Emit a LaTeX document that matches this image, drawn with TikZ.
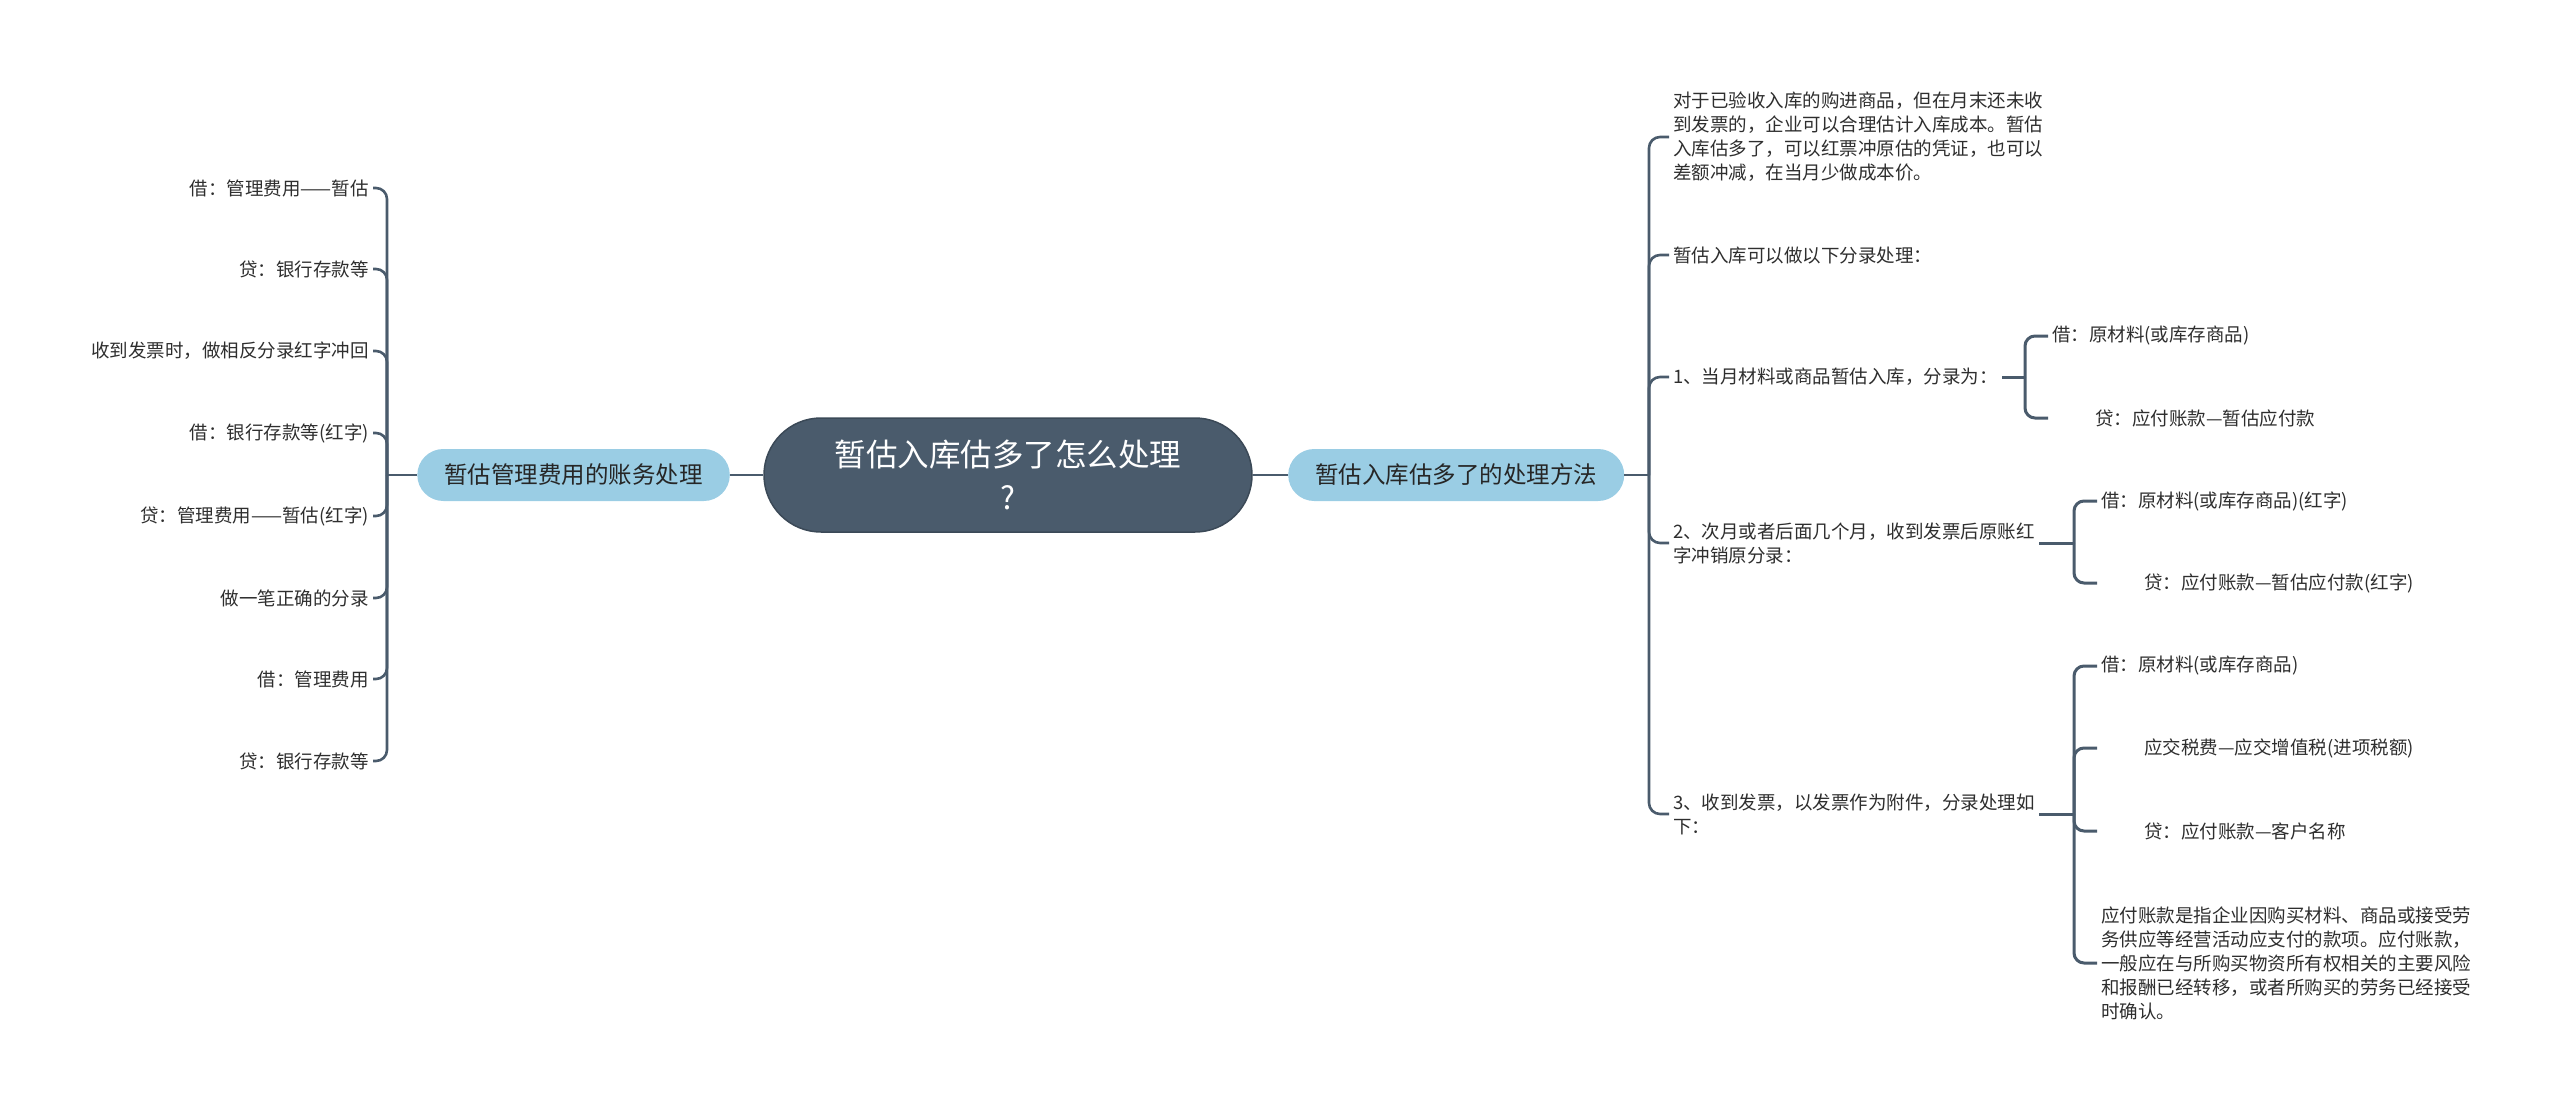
\documentclass[tikz,border=0pt]{standalone}
\usepackage{fontspec}
\setmainfont{Noto Sans CJK SC}
\usepackage{tikz}
\definecolor{grisOscuro}{HTML}{4A5B6C}
\definecolor{bordeRaiz}{HTML}{3B4957}
\definecolor{azulRama}{HTML}{9ACDE4}
\definecolor{textoHoja}{HTML}{2E2E2E}

\begin{document}
\begin{tikzpicture}[x=1pt,y=-1pt,
    hoja/.style={text=textoHoja,font=\fontsize{18.5}{24}\selectfont,inner xsep=4pt,inner ysep=2pt,align=left},
    rama/.style={fill=azulRama,text=black!85,rounded corners=26pt,minimum height=52pt,inner xsep=27pt,font=\fontsize{23.5}{28}\selectfont},
    enlace/.style={draw=grisOscuro,line width=2.6pt,rounded corners=11pt},
    llave/.style={enlace,line width=3pt,rounded corners=10pt}]
  \useasboundingbox (0,0) rectangle (2560,1110);

  % centro y ramas
  \node[fill=grisOscuro,draw=bordeRaiz,line width=1.5pt,text=white,rounded corners=57pt,minimum width=488pt,minimum height=114pt,align=center,font=\fontsize{31.5}{43}\selectfont] (raiz) at (1008,475) {暂估入库估多了怎么处理\\?};
  \node[rama,anchor=east] (rizq) at (730,475) {暂估管理费用的账务处理};
  \node[rama,anchor=west] (rder) at (1288,475) {暂估入库估多了的处理方法};
  \draw[enlace] (raiz.west) -- (rizq.east);
  \draw[enlace] (raiz.east) -- (rder.west);

  % lado izquierdo
  \node[hoja,anchor=east] (h1) at (373,188) {借：管理费用——暂估};
  \node[hoja,anchor=east] (h2) at (373,269) {贷：银行存款等};
  \node[hoja,anchor=east] (h3) at (373,351) {收到发票时，做相反分录红字冲回};
  \node[hoja,anchor=east] (h4) at (373,433) {借：银行存款等(红字)};
  \node[hoja,anchor=east] (h5) at (373,516) {贷：管理费用——暂估(红字)};
  \node[hoja,anchor=east] (h6) at (373,598) {做一笔正确的分录};
  \node[hoja,anchor=east] (h7) at (373,679) {借：管理费用};
  \node[hoja,anchor=east] (h8) at (373,761) {贷：银行存款等};
  \coordinate (eizq) at (387,475);
  \draw[enlace] (rizq.west) -- (eizq);
  \draw[enlace] (eizq) |- (h1.east);
  \draw[enlace] (eizq) |- (h2.east);
  \draw[enlace] (eizq) |- (h3.east);
  \draw[enlace] (eizq) |- (h4.east);
  \draw[enlace] (eizq) |- (h5.east);
  \draw[enlace] (eizq) |- (h6.east);
  \draw[enlace] (eizq) |- (h7.east);
  \draw[enlace] (eizq) |- (h8.east);

  % lado derecho
  \node[hoja,anchor=west] (d1) at (1669,137) {对于已验收入库的购进商品，但在月末还未收\\到发票的，企业可以合理估计入库成本。暂估\\入库估多了，可以红票冲原估的凭证，也可以\\差额冲减，在当月少做成本价。};
  \node[hoja,anchor=west] (d2) at (1669,255) {暂估入库可以做以下分录处理：};
  \node[hoja,anchor=west] (d3) at (1669,377) {1、当月材料或商品暂估入库，分录为：};
  \node[hoja,anchor=west] (d4) at (1669,543) {2、次月或者后面几个月，收到发票后原账红\\字冲销原分录：};
  \node[hoja,anchor=west] (d5) at (1669,814) {3、收到发票，以发票作为附件，分录处理如\\下：};
  \coordinate (eder) at (1649,475);
  \draw[enlace] (rder.east) -- (eder);
  \draw[enlace] (eder) |- (d1.west);
  \draw[enlace] (eder) |- (d2.west);
  \draw[enlace] (eder) |- (d3.west);
  \draw[enlace] (eder) |- (d4.west);
  \draw[enlace] (eder) |- (d5.west);

  % 1、
  \node[hoja,anchor=west] (d3a) at (2048,336) {借：原材料(或库存商品)};
  \node[hoja,anchor=west] (d3b) at (2048,418) {\hspace*{43pt}贷：应付账款—暂估应付款};
  \coordinate (e3) at (2025,377);
  \draw[llave] (d3.east) -- (e3);
  \draw[llave] (e3) |- (d3a.west);
  \draw[llave] (e3) |- (d3b.west);

  % 2、
  \node[hoja,anchor=west] (d4a) at (2097,501) {借：原材料(或库存商品)(红字)};
  \node[hoja,anchor=west] (d4b) at (2097,583) {\hspace*{43pt}贷：应付账款—暂估应付款(红字)};
  \coordinate (e4) at (2074,543);
  \draw[llave] (d4.east) -- (e4);
  \draw[llave] (e4) |- (d4a.west);
  \draw[llave] (e4) |- (d4b.west);

  % 3、
  \node[hoja,anchor=west] (d5a) at (2097,666) {借：原材料(或库存商品)};
  \node[hoja,anchor=west] (d5b) at (2097,748) {\hspace*{43pt}应交税费—应交增值税(进项税额)};
  \node[hoja,anchor=west] (d5c) at (2097,831) {\hspace*{43pt}贷：应付账款—客户名称};
  \node[hoja,anchor=west] (d5d) at (2097,963) {应付账款是指企业因购买材料、商品或接受劳\\务供应等经营活动应支付的款项。应付账款，\\一般应在与所购买物资所有权相关的主要风险\\和报酬已经转移，或者所购买的劳务已经接受\\时确认。};
  \coordinate (e5) at (2074,814);
  \draw[llave] (d5.east) -- (e5);
  \draw[llave] (e5) |- (d5a.west);
  \draw[llave] (e5) |- (d5b.west);
  \draw[llave] (e5) |- (d5c.west);
  \draw[llave] (e5) |- (d5d.west);
\end{tikzpicture}
\end{document}
